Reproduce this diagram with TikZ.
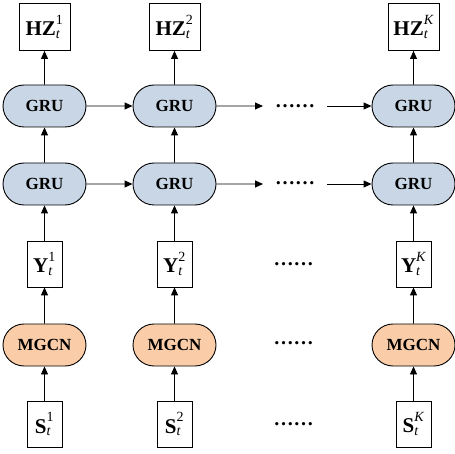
\documentclass[tikz,border=0pt]{standalone}
\usepackage{fontspec}
\setmainfont{Liberation Serif}
\usetikzlibrary{shapes.misc,arrows.meta}
\newcommand{\scr}[1]{\mbox{\fontsize{14}{14}\selectfont #1}}
\newcommand{\var}[2]{$\mbox{\fontsize{21}{24}\selectfont\bfseries #1}^{\scr{#2}}_{\scr{\itshape t}}$}
\definecolor{grufill}{RGB}{201,214,230}
\definecolor{mgcnfill}{RGB}{250,205,168}
\begin{document}
\begin{tikzpicture}[x=1pt,y=1pt,
  pill/.style={rounded rectangle, draw=black, line width=0.9pt, minimum width=83pt, minimum height=42pt, inner sep=0pt, font=\fontsize{17}{19}\selectfont\bfseries},
  grubox/.style={pill, fill=grufill},
  mgcnbox/.style={pill, fill=mgcnfill},
  varbox/.style={draw=black, line width=0.8pt, fill=white, minimum width=35pt, minimum height=46pt, inner sep=0pt},
  hzbox/.style={varbox, minimum width=51pt, minimum height=47pt},
  conn/.style={line width=0.9pt, -{Triangle[length=8pt,width=7pt]}},
  dots/.style={inner sep=0pt, font=\fontsize{20}{20}\selectfont\bfseries}
]
\useasboundingbox (0,0) rectangle (455,453);
% columns
\foreach \c/\x/\k in {1/44.5/1, 2/174.5/2, 3/413.5/\itshape K}{
  \node[hzbox] (hz\c) at (\x,426) {\var{HZ}{\k}};
  \node[grubox] (gA\c) at (\x,347) {GRU};
  \node[grubox] (gB\c) at (\x,269) {GRU};
  \node[varbox] (y\c) at (\x,189) {\var{Y}{\k}};
  \node[mgcnbox] (m\c) at (\x,108) {MGCN};
  \node[varbox] (s\c) at (\x,29) {\var{S}{\k}};
  \draw[conn] (s\c) -- (m\c);
  \draw[conn] (m\c) -- (y\c);
  \draw[conn] (y\c) -- (gB\c);
  \draw[conn] (gB\c) -- (gA\c);
  \draw[conn] (gA\c) -- (hz\c);
}
% horizontal connectors
\draw[conn] (gA1) -- (gA2);
\draw[conn] (gB1) -- (gB2);
\coordinate (aEnd) at (263,347);
\coordinate (aStart) at (327,347);
\coordinate (bEnd) at (263,269);
\coordinate (bStart) at (327,269);
\draw[conn] (gA2) -- (aEnd);
\draw[conn] (aStart) -- (gA3);
\draw[conn] (gB2) -- (bEnd);
\draw[conn] (bStart) -- (gB3);
% dots
\node[dots] (dA) at (295,346.5) {……};
\node[dots] (dB) at (295,270) {……};
\node[dots] (dY) at (293.5,189) {……};
\node[dots] (dM) at (293.5,110) {……};
\node[dots] (dS) at (293.5,29) {……};
\end{tikzpicture}
\end{document}
